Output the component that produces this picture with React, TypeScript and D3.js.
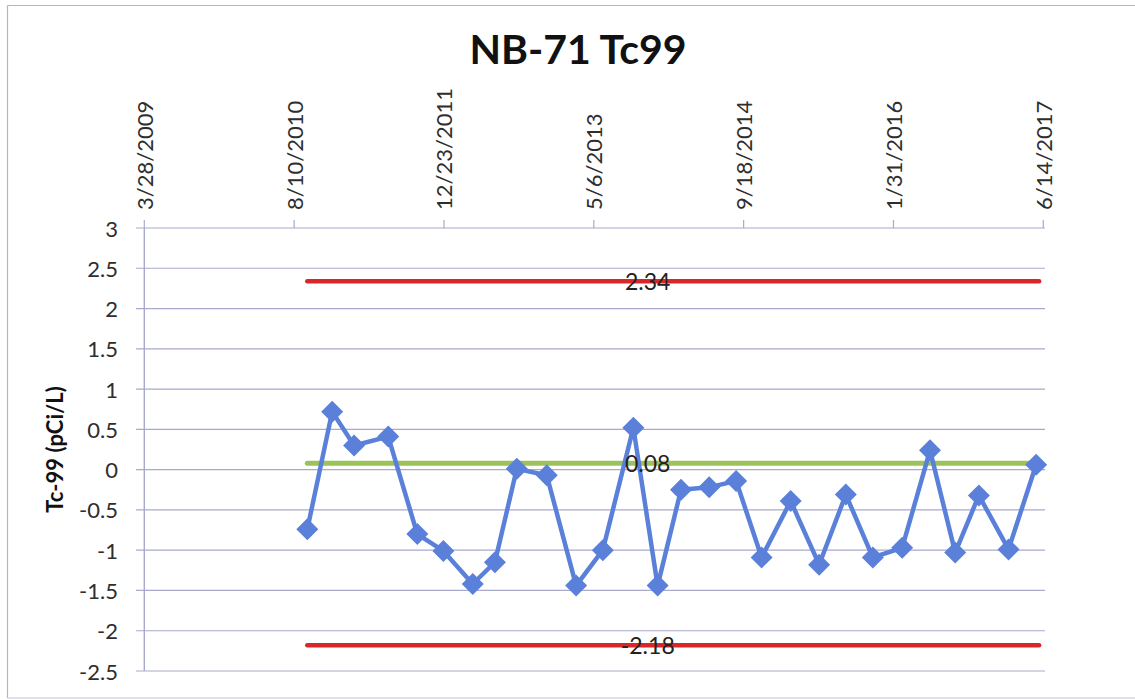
import React from "react";
import * as d3 from "d3";

const title = "NB-71 Tc99";
const yAxisTitle = "Tc-99 (pCi/L)";

const sampleDates = [
  "2010-09-23", "2010-12-15", "2011-02-26", "2011-06-20", "2011-09-25", "2011-12-21",
  "2012-03-28", "2012-06-10", "2012-08-22", "2012-11-30", "2013-03-08", "2013-06-05",
  "2013-09-15", "2013-12-05", "2014-02-21", "2014-05-26", "2014-08-24", "2014-11-17",
  "2015-02-22", "2015-05-28", "2015-08-25", "2015-11-23", "2016-02-29", "2016-06-01",
  "2016-08-24", "2016-11-11", "2017-02-18", "2017-05-21",
];
const tcValues = [
  -0.74, 0.72, 0.30, 0.41, -0.80, -1.01,
  -1.42, -1.15, 0.01, -0.07, -1.44, -1.0,
  0.52, -1.44, -0.25, -0.22, -0.14, -1.09,
  -0.39, -1.18, -0.31, -1.09, -0.97, 0.24,
  -1.03, -0.32, -0.99, 0.06,
];

const xTickDates = ["2009-03-28", "2010-08-10", "2011-12-23", "2013-05-06", "2014-09-18", "2016-01-31", "2017-06-14"];
const xTickLabels = ["3/28/2009", "8/10/2010", "12/23/2011", "5/6/2013", "9/18/2014", "1/31/2016", "6/14/2017"];
const yTicks = [3, 2.5, 2, 1.5, 1, 0.5, 0, -0.5, -1, -1.5, -2, -2.5];
const yTickLabels = ["3", "2.5", "2", "1.5", "1", "0.5", "0", "-0.5", "-1", "-1.5", "-2", "-2.5"];

const controlNames = ["upper", "mean", "lower"];
const controlValues = [2.34, 0.08, -2.18];
const controlLabels = ["2.34", "0.08", "-2.18"];
const controlStart = ["2010-09-23", "2010-09-23", "2010-09-23"];
const controlEnd = ["2017-05-31", "2017-05-21", "2017-05-31"];
const controlLabelDate = "2013-11-02";

const parse = d3.timeParse("%Y-%m-%d");

const W = 1135;
const H = 699;
const plot = { left: 144.3, right: 1043.3, top: 228, bottom: 671 };

const FONT = "Lato, 'Open Sans', sans-serif";
const BLUE = "#5a80d9";
const RED = "#d9262b";
const GREEN = "#9cc25a";
const GRID = "#a9a9cc";
const TEXT = "#2e2e2e";

export default function App() {
  const x = d3
    .scaleTime()
    .domain([parse(xTickDates[0]) as Date, parse(xTickDates[xTickDates.length - 1]) as Date])
    .range([plot.left, plot.right]);
  const y = d3.scaleLinear().domain([-2.5, 3]).range([plot.bottom, plot.top]);

  const pts = sampleDates.map((d, i) => ({ date: parse(d) as Date, v: tcValues[i] }));
  const line = d3
    .line<{ date: Date; v: number }>()
    .x((d) => x(d.date))
    .y((d) => y(d.v));

  const controlColors = [RED, GREEN, RED];
  const controlWidths = [4.5, 5, 4.5];
  const r = 11;
  const diamondPath = `M0,${-r}L${r},0L0,${r}L${-r},0Z`;

  return (
    <svg
      width={W}
      height={H}
      style={{ position: "absolute", left: 0, top: 0, background: "#fff" }}
      fontFamily={FONT}
    >
      <rect x={0} y={0} width={W} height={H} fill="#fff" />
      {/* outer frame */}
      <line x1={7.5} x2={W} y1={5.5} y2={5.5} stroke="#b4b4c8" strokeWidth={1.2} />
      <line x1={7.5} x2={7.5} y1={5.5} y2={698} stroke="#b4b4c8" strokeWidth={1.2} />
      <line x1={7.5} x2={W} y1={698} y2={698} stroke="#c4c4d0" strokeWidth={1.2} />

      {/* title */}
      <text x={578} y={64} textAnchor="middle" fontSize={41} fontWeight={700} fill="#111">
        {title}
      </text>

      {/* gridlines and y ticks */}
      {yTicks.map((t, i) => (
        <g key={"y" + i}>
          <line x1={136} x2={1045} y1={y(t)} y2={y(t)} stroke={GRID} strokeWidth={1.2} />
          <text
            x={118}
            y={y(t)}
            textAnchor="end"
            dominantBaseline="central"
            fontSize={22}
            fill={TEXT}
          >
            {yTickLabels[i]}
          </text>
        </g>
      ))}
      {/* y axis line */}
      <line x1={plot.left} x2={plot.left} y1={plot.top} y2={plot.bottom} stroke={GRID} strokeWidth={1.4} />

      {/* x ticks on top */}
      {xTickDates.map((d, i) => {
        const xx = x(parse(d) as Date);
        return (
          <g key={"x" + i}>
            <line x1={xx} x2={xx} y1={plot.top} y2={plot.top - 8} stroke={GRID} strokeWidth={1.2} />
            <text
              transform={`translate(${xx},${plot.top - 18}) rotate(-90)`}
              textAnchor="start"
              dominantBaseline="central"
              fontSize={22}
              fill={TEXT}
            >
              {xTickLabels[i]}
            </text>
          </g>
        );
      })}

      {/* y axis title */}
      <text
        transform={`translate(63,${(plot.top + plot.bottom) / 2}) rotate(-90)`}
        textAnchor="middle"
        fontSize={22}
        fontWeight={700}
        fill="#111"
      >
        {yAxisTitle}
      </text>

      {/* control lines */}
      {controlNames.map((n, i) => (
        <line
          key={n}
          x1={x(parse(controlStart[i]) as Date)}
          x2={x(parse(controlEnd[i]) as Date)}
          y1={y(controlValues[i])}
          y2={y(controlValues[i])}
          stroke={controlColors[i]}
          strokeWidth={controlWidths[i]}
          strokeLinecap="round"
        />
      ))}

      {/* series */}
      <path d={line(pts) || ""} fill="none" stroke={BLUE} strokeWidth={4.5} strokeLinejoin="round" />
      {pts.map((p, i) => (
        <path
          key={"p" + i}
          d={diamondPath}
          transform={`translate(${x(p.date)},${y(p.v)})`}
          fill={BLUE}
        />
      ))}

      {/* control labels */}
      {controlNames.map((n, i) => (
        <text
          key={"l" + n}
          x={x(parse(controlLabelDate) as Date)}
          y={y(controlValues[i])}
          textAnchor="middle"
          dominantBaseline="central"
          fontSize={23}
          fill="#222"
        >
          {controlLabels[i]}
        </text>
      ))}
    </svg>
  );
}
